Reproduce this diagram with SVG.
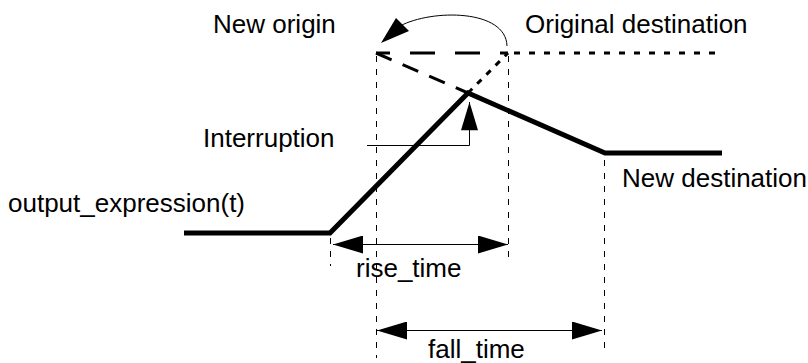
<svg xmlns="http://www.w3.org/2000/svg" width="808" height="363" viewBox="0 0 808 363">
  <style>
    text { font-family: "Liberation Sans", Arial, sans-serif; font-size: 26px; fill: #000; }
    .guide { stroke: #000; stroke-width: 1; stroke-dasharray: 6 7; fill: none; }
    .thin { stroke: #000; stroke-width: 1; fill: none; }
    .signal { stroke: #000; stroke-width: 5; fill: none; stroke-linejoin: miter; }
    .orig { stroke: #000; stroke-width: 3; fill: none; }
  </style>
  <defs>
    <marker id="head" viewBox="0 0 30 18" refX="30" refY="9" markerWidth="30" markerHeight="18" markerUnits="userSpaceOnUse" orient="auto-start-reverse">
      <polygon points="0,0 30,9 0,18" fill="#000"/>
    </marker>
    <marker id="headS" viewBox="0 0 30 18" refX="30" refY="9" markerWidth="30" markerHeight="17" markerUnits="userSpaceOnUse" orient="auto">
      <polygon points="0,0 30,9 0,18" fill="#000"/>
    </marker>
  </defs>

  <!-- vertical guide lines -->
  <g id="guides">
    <line class="guide" x1="330.5" y1="238" x2="330.5" y2="266"/>
    <line class="guide" x1="376.5" y1="56" x2="376.5" y2="358"/>
    <line class="guide" x1="508.5" y1="56" x2="508.5" y2="263"/>
    <line class="guide" x1="604.5" y1="160" x2="604.5" y2="348"/>
  </g>

  <!-- original trajectory: dashed up to the interruption, dotted afterwards -->
  <g id="original-path">
    <line class="orig" x1="376" y1="53" x2="508" y2="53" stroke-dasharray="25 20" stroke-dashoffset="11"/>
    <line class="orig" x1="508" y1="53" x2="722" y2="53" stroke-dasharray="6 9" stroke-dashoffset="-6"/>
    <line class="orig" x1="376" y1="53" x2="468" y2="93" stroke-dasharray="17 12"/>
    <line class="orig" x1="468" y1="93" x2="508" y2="53" stroke-dasharray="6 7"/>
  </g>

  <!-- actual output signal -->
  <g id="signal">
    <polyline class="signal" points="184,233 330,233 468,93 605,153 722,153"/>
  </g>

  <g id="connectors">
    <!-- origin swap -->
    <path class="thin" d="M507,46 C506,9 432,9 400,26"/>
    <polygon points="381,43 396,18 409,31" fill="#000"/>
    <!-- interruption pointer -->
    <polyline class="thin" points="367,145.5 469.5,145.5 469.5,102" marker-end="url(#headS)"/>
    <!-- rise_time span -->
    <line class="thin" x1="333" y1="244.5" x2="508" y2="244.5" marker-start="url(#head)" marker-end="url(#head)"/>
    <!-- fall_time span -->
    <line class="thin" x1="377" y1="330.5" x2="602" y2="330.5" marker-start="url(#head)" marker-end="url(#head)"/>
  </g>

  <g id="labels">
    <text x="213" y="33">New origin</text>
    <text x="525" y="33">Original destination</text>
    <text x="203" y="147">Interruption</text>
    <text x="8" y="212">output_expression(t)</text>
    <text x="622" y="187">New destination</text>
    <text x="356" y="277">rise_time</text>
    <text x="428" y="358">fall_time</text>
  </g>
</svg>
